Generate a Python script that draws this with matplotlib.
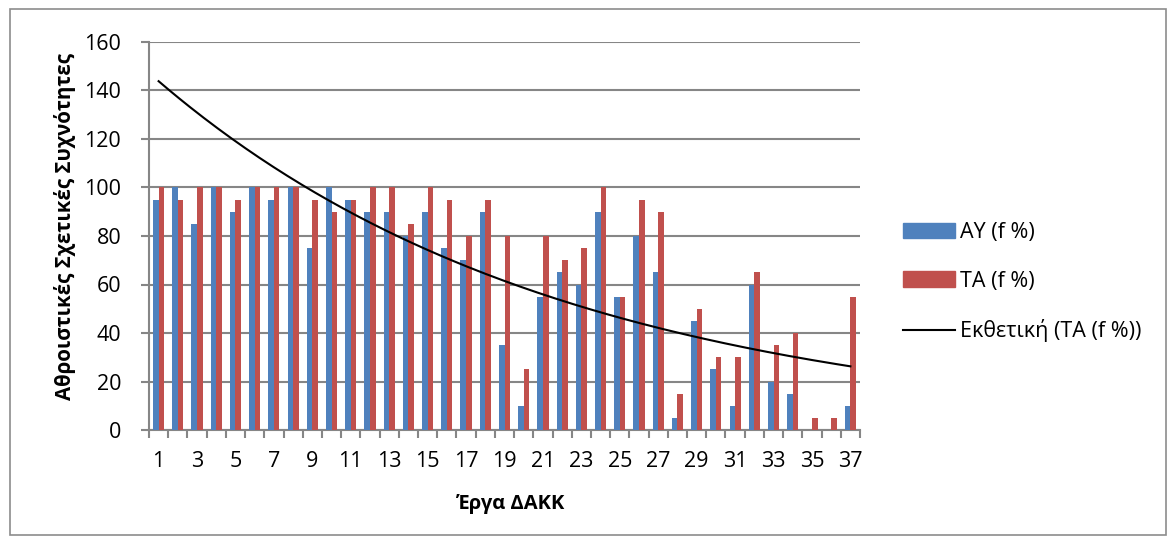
import numpy as np
import matplotlib.pyplot as plt
from matplotlib.patches import Rectangle, Patch
from matplotlib.lines import Line2D

plt.rcParams['font.family'] = ['Open Sans', 'DejaVu Sans']

# data
erga = list(range(1, 38))
ay = [95, 100, 85, 100, 90, 100, 95, 100, 75, 100,
      95, 90, 90, 80, 90, 75, 70, 90, 35, 10,
      55, 65, 60, 90, 55, 80, 65, 5, 45, 25,
      10, 60, 20, 15, 0, 0, 10]
ta = [100, 95, 100, 100, 95, 100, 100, 100, 95, 90,
      95, 100, 100, 85, 100, 95, 80, 95, 80, 25,
      80, 70, 75, 100, 55, 95, 90, 15, 50, 30,
      30, 65, 35, 40, 5, 5, 55]
yticks = [0, 20, 40, 60, 80, 100, 120, 140, 160]

blue = '#4F81BD'
red = '#C0504D'
grid = '#868686'

fig = plt.figure(figsize=(11.76, 5.44), dpi=100)
fig.patches.append(Rectangle((10/1176, 9/544), 1156/1176, 526/544, transform=fig.transFigure,
                             fill=False, edgecolor='#8c8c8c', linewidth=1.2))
ax = fig.add_axes([149/1176, 1 - 430/544, 711/1176, 388/544])

x = np.array(erga)
w = 0.29
ax.bar(x - w/2, ay, w, color=blue, zorder=3)
ax.bar(x + w/2, ta, w, color=red, zorder=3)

# exponential trendline (Excel style: fit on ln y)
b, lna = np.polyfit(x, np.log(ta), 1)
xs = np.linspace(1, 37, 200)
ax.plot(xs, np.exp(lna) * np.exp(b * xs), color='black', linewidth=1.5, zorder=4)

ax.set_xlim(0.5, 37.5)
ax.set_ylim(0, 160)
ax.set_yticks(yticks)
ax.yaxis.grid(True, color=grid, linewidth=1.5, zorder=0)
ax.set_axisbelow(True)

ax.set_xticks(x[::2])
ax.set_xticks(np.arange(0.5, 38, 1), minor=True)
ax.tick_params(axis='x', which='major', length=0, pad=15, labelsize=15.5)
ax.tick_params(axis='x', which='minor', length=6, width=1.5, color=grid)
ax.tick_params(axis='y', length=6, width=1.5, color=grid, labelsize=15.5, pad=14)

for s in ['top', 'right']:
    ax.spines[s].set_visible(False)
for s in ['left', 'bottom']:
    ax.spines[s].set_color(grid)
    ax.spines[s].set_linewidth(1.5)

ax.set_xlabel('Έργα ΔΑΚΚ', fontsize=14.5, fontweight='bold', va='center')
ax.xaxis.set_label_coords(0.509, (430 - 504) / 388)
ax.set_ylabel('Αθροιστικές Σχετικές Συχνότητες', fontsize=14.8, fontweight='bold', va='center')
ax.yaxis.set_label_coords((65 - 149) / 711, 0.525)

handles = [Patch(color=blue), Patch(color=red), Line2D([0], [0], color='black', linewidth=1.5)]
labels = ['ΑΥ (f %)', 'ΤΑ (f %)', 'Εκθετική (ΤΑ (f %))']
fig.legend(handles, labels, loc='center left', bbox_to_anchor=(903/1176, 1 - 282/544),
           frameon=False, fontsize=15.5, handlelength=2.42, handleheight=0.7,
           labelspacing=1.28, handletextpad=0.23, borderpad=0, borderaxespad=0)

fig.savefig('out.png', dpi=100)
